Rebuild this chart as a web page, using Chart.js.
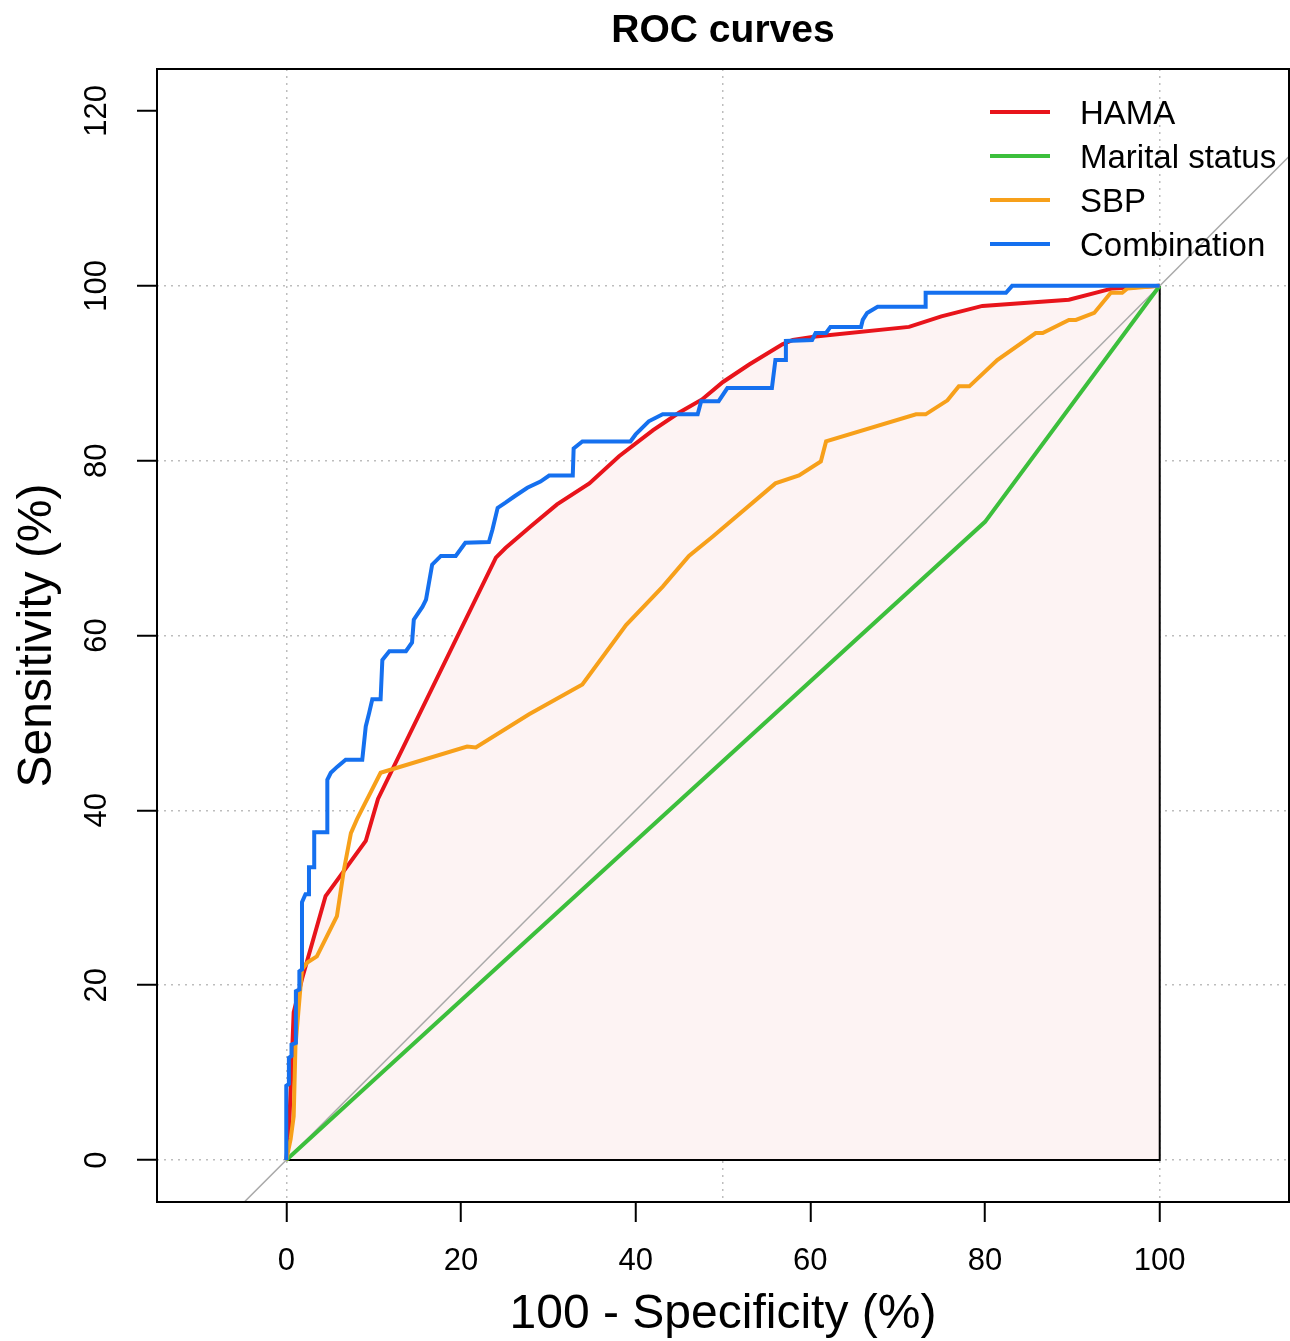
<!DOCTYPE html>
<html>
<head>
<meta charset="utf-8">
<title>ROC curves</title>
<script src="https://cdn.jsdelivr.net/npm/chart.js@4.4.1/dist/chart.umd.min.js"></script>
<style>
  html, body { margin: 0; padding: 0; background: #fff; }
  #wrap { width: 1290px; height: 1341px; }
</style>
</head>
<body>
<div id="wrap"><canvas id="rocChart" width="1290" height="1341"></canvas></div>
<script>
// series names and ticks
const chartTitle = 'ROC curves';
const seriesNames = ['HAMA', 'Marital status', 'SBP', 'Combination'];
const xTicks = [0, 20, 40, 50, 60, 80, 100];
const yTicks = [0, 20, 40, 60, 80, 100, 120];
const xGridValues = [0, 50, 100];

// 100 - specificity (x) and sensitivity (y), in %
const hamaX = [0, 0.3, 0.85, 1.8, 4.5, 9.1, 10.5, 24.0, 25.1, 28, 31, 34.7, 38.1, 42, 45, 47.6, 50, 53, 56.8, 58, 60.6, 71.3, 75, 79.7, 89.6, 94.6, 100];
const hamaY = [0, 3, 16.9, 20.7, 30.2, 36.5, 41.3, 68.9, 70.0, 72.5, 75, 77.4, 80.5, 83.5, 85.5, 87, 89, 91, 93.3, 93.8, 94.2, 95.3, 96.5, 97.7, 98.4, 99.7, 100];

const maritalX = [0, 80, 100];
const maritalY = [0, 73, 100];

const sbpX = [0, 0.5, 0.85, 1.05, 1.8, 2.4, 3.5, 5.8, 6.6, 7.4, 8.1, 10.8, 20.7, 21.7, 27.8, 33.9, 38.9, 43.1, 46.1, 48.8, 56.0, 58.7, 61.2, 61.8, 72.1, 73.2, 75.7, 77.0, 78.2, 81.4, 85.8, 86.6, 89.6, 90.4, 92.5, 94.4, 95.7, 96.3, 100];
const sbpY = [0, 2.4, 5, 13, 21.8, 22.6, 23.3, 27.9, 33.2, 37.4, 39, 44.3, 47.3, 47.2, 51.0, 54.4, 61.2, 65.6, 69.1, 71.3, 77.4, 78.3, 79.9, 82.2, 85.3, 85.3, 86.9, 88.5, 88.5, 91.5, 94.6, 94.6, 96.1, 96.1, 96.9, 99.2, 99.2, 99.7, 100];

const comboX = [0, 0, 0.3, 0.3, 0.6, 0.6, 1.1, 1.1, 1.5, 1.5, 1.8, 1.8, 2.2, 2.6, 2.6, 3.2, 3.2, 4.7, 4.7, 5.1, 5.85, 6.8, 8.7, 9.1, 9.5, 9.85, 10.8, 11.0, 11.8, 13.7, 14.4, 14.6, 15.6, 16.0, 16.7, 17.7, 19.4, 20.5, 23.2, 23.6, 24.2, 25.1, 26.1, 27.6, 29.1, 30.1, 32.8, 32.9, 33.9, 39.4, 40.0, 41.5, 43.1, 47.1, 47.5, 49.5, 50.5, 55.6, 56.0, 57.2, 57.2, 60.2, 60.6, 61.8, 62.3, 65.8, 66.0, 66.5, 67.7, 73.2, 73.2, 82.4, 83.1, 100];
const comboY = [0, 8.5, 8.7, 11.7, 11.9, 13.2, 13.4, 19.3, 19.5, 21.6, 21.8, 29.5, 30.4, 30.4, 33.5, 33.5, 37.5, 37.5, 43.5, 44.3, 45.0, 45.8, 45.8, 49.6, 51.2, 52.7, 52.7, 57.2, 58.2, 58.2, 59.2, 61.8, 63.3, 64.1, 68.1, 69.1, 69.1, 70.6, 70.7, 72.1, 74.6, 75.2, 75.9, 76.9, 77.6, 78.3, 78.3, 81.4, 82.2, 82.2, 83.0, 84.5, 85.3, 85.3, 86.8, 86.8, 88.3, 88.3, 91.5, 91.5, 93.7, 93.8, 94.6, 94.6, 95.3, 95.3, 96.1, 96.9, 97.6, 97.6, 99.2, 99.2, 100, 100];

// chance line and the AUC polygon outline
const diagX = [-14.8, 114.8];
const diagY = [-14.8, 114.8];
const outlineX = [0, 100, 100];
const outlineY = [0, 0, 100];

const FONT = '"Liberation Sans", Arial, Helvetica, sans-serif';
const seriesColors = ['#e8141b', '#3cbf3c', '#f7a01a', '#1570ef'];
const GRID = '#bdbdbd';
const CLEAR = 'rgba(0,0,0,0)';

const toPoints = (xs, ys) => xs.map((x, i) => ({ x: x, y: ys[i] }));

function curve(label, xs, ys, color, order) {
    return {
        label: label,
        data: toPoints(xs, ys),
        borderColor: color,
        borderWidth: 4,
        pointRadius: 0,
        tension: 0,
        fill: false,
        order: order
    };
}

// title over the plot box, the box itself and the legend in the top right corner
const framePlugin = {
    id: 'frameAndLegend',
    afterDatasetsDraw(chart) {
        const { ctx, chartArea } = chart;
        ctx.save();
        ctx.strokeStyle = '#000';
        ctx.lineWidth = 2;
        ctx.strokeRect(chartArea.left, chartArea.top, chartArea.right - chartArea.left, chartArea.bottom - chartArea.top);
        ctx.restore();
    },
    afterDraw(chart) {
        const { ctx, chartArea } = chart;
        ctx.save();
        ctx.fillStyle = '#000';
        ctx.textBaseline = 'middle';

        ctx.font = 'bold 39px ' + FONT;
        ctx.textAlign = 'center';
        ctx.fillText(chartTitle, (chartArea.left + chartArea.right) / 2, 31);

        const x0 = chartArea.right - 299;
        ctx.font = '33px ' + FONT;
        ctx.textAlign = 'left';
        seriesNames.forEach((name, i) => {
            const y = chartArea.top + 43 + i * 44;
            ctx.strokeStyle = seriesColors[i];
            ctx.lineWidth = 4;
            ctx.beginPath();
            ctx.moveTo(x0, y);
            ctx.lineTo(x0 + 60, y);
            ctx.stroke();
            ctx.fillText(name, x0 + 90, y + 3);
        });
        ctx.restore();
    }
};

Chart.defaults.color = '#000';
Chart.defaults.font.family = FONT;

new Chart(document.getElementById('rocChart'), {
    type: 'line',
    data: {
        datasets: [
            curve(seriesNames[3], comboX, comboY, seriesColors[3], 1),
            curve(seriesNames[2], sbpX, sbpY, seriesColors[2], 2),
            curve(seriesNames[1], maritalX, maritalY, seriesColors[1], 3),
            curve(seriesNames[0], hamaX, hamaY, seriesColors[0], 4),
            {
                label: 'diagonal',
                data: toPoints(diagX, diagY),
                borderColor: '#a9a9a9',
                borderWidth: 1.5,
                pointRadius: 0,
                fill: false,
                order: 8
            },
            {
                label: 'outline',
                data: toPoints(outlineX, outlineY),
                borderColor: '#000',
                borderWidth: 2,
                pointRadius: 0,
                fill: false,
                order: 9
            },
            {
                label: 'auc',
                data: toPoints(hamaX, hamaY),
                borderWidth: 0,
                borderColor: CLEAR,
                backgroundColor: '#fdf3f3',
                pointRadius: 0,
                fill: { value: 0 },
                order: 10
            }
        ]
    },
    options: {
        responsive: false,
        animation: false,
        events: [],
        layout: { padding: { top: 69, right: 1 } },
        plugins: {
            legend: { display: false },
            tooltip: { enabled: false },
            title: { display: false }
        },
        scales: {
            x: {
                type: 'linear',
                min: -14.8,
                max: 114.8,
                afterBuildTicks: scale => { scale.ticks = xTicks.map(v => ({ value: v })); },
                afterFit: scale => { scale.height = 139; },
                ticks: {
                    font: { size: 31 },
                    padding: 21,
                    maxRotation: 0,
                    callback: v => (v === 50 ? '' : v)
                },
                grid: {
                    color: c => (xGridValues.includes(c.tick && c.tick.value) ? GRID : CLEAR),
                    lineWidth: 1.5,
                    tickLength: 20,
                    tickColor: c => (c.tick && c.tick.value === 50 ? CLEAR : '#000'),
                    tickWidth: 2,
                    tickBorderDash: []
                },
                border: { display: false, dash: [2, 5] },
                title: {
                    display: true,
                    text: '100 - Specificity (%)',
                    font: { size: 48, lineHeight: 1 },
                    padding: { top: 0, bottom: 2 }
                }
            },
            y: {
                type: 'linear',
                min: -4.8,
                max: 124.8,
                afterBuildTicks: scale => { scale.ticks = yTicks.map(v => ({ value: v })); },
                afterFit: scale => { scale.width = 157; },
                ticks: {
                    font: { size: 31 },
                    padding: 14,
                    minRotation: 90,
                    maxRotation: 90,
                    crossAlign: 'center'
                },
                grid: {
                    color: c => (c.tick && c.tick.value <= 100 ? GRID : CLEAR),
                    lineWidth: 1.5,
                    tickLength: 20,
                    tickColor: '#000',
                    tickWidth: 2,
                    tickBorderDash: []
                },
                border: { display: false, dash: [2, 5] },
                title: {
                    display: true,
                    text: 'Sensitivity (%)',
                    font: { size: 48, lineHeight: 1.2 },
                    padding: { top: 9, bottom: 0 }
                }
            }
        }
    },
    plugins: [framePlugin]
});
</script>
</body>
</html>
